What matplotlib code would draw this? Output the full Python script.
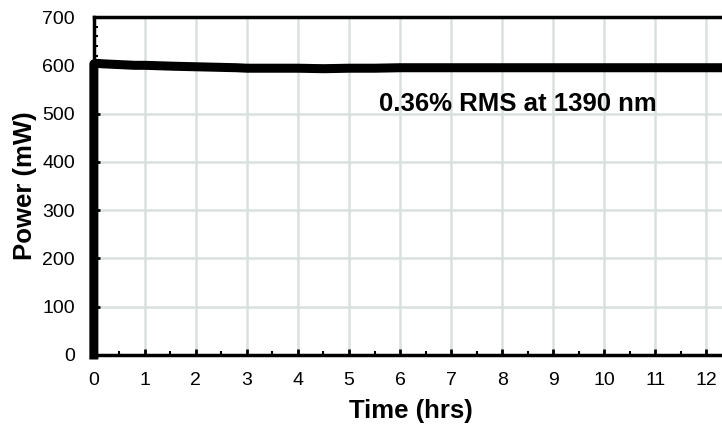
import matplotlib.pyplot as plt
from matplotlib.ticker import MultipleLocator

plt.rcParams['font.family'] = ['Liberation Sans', 'DejaVu Sans']

# power log (hours, mW)
time_hrs = [0.0, 0.0, 0.05, 0.2, 0.4, 0.6, 0.8, 1.0, 1.3, 1.6, 2.0, 2.4, 2.8, 3.0,
            3.5, 4.0, 4.5, 5.0, 5.5, 6.0, 6.5, 7.0, 7.5, 8.0, 8.5, 9.0, 9.5,
            10.0, 10.5, 11.0, 11.5, 12.0, 12.35]
power_mw = [0, 603, 604, 603, 602, 601, 600, 600, 599, 598, 597, 596, 595, 594,
            594, 594, 593, 594, 594, 595, 595, 595, 595, 595, 595, 595, 595,
            595, 595, 595, 595, 595, 595]

note = "0.36% RMS at 1390 nm"

fig = plt.figure(figsize=(7.22, 4.26), dpi=100)
ax = fig.add_axes([0.130, 0.1667, 0.870, 0.7933])

ax.plot(time_hrs, power_mw, color='black', lw=6.5, solid_joinstyle='round',
        clip_on=False, zorder=3)

ax.set_xlim(0, 12.31)
ax.set_ylim(0, 700)
ax.xaxis.set_major_locator(MultipleLocator(1))
ax.xaxis.set_minor_locator(MultipleLocator(0.5))
ax.yaxis.set_major_locator(MultipleLocator(100))
ax.yaxis.set_minor_locator(MultipleLocator(20))
ax.grid(True, which='major', color='#d8e1de', lw=1.8)
ax.set_axisbelow(True)

ax.tick_params(which='major', direction='in', length=4, width=2, labelsize=14)
ax.tick_params(axis='x', which='major', pad=12.5)
ax.tick_params(axis='y', which='major', pad=13.5)
ax.tick_params(which='minor', direction='in', length=3, width=1.5)
ax.tick_params(axis='y', which='both', right=False)

for side in ['left', 'bottom', 'top']:
    ax.spines[side].set_linewidth(2.5)
ax.spines['right'].set_visible(False)

ax.set_xlabel('Time (hrs)', fontsize=18.5, fontweight='bold', va='center')
ax.set_ylabel('Power (mW)', fontsize=18.5, fontweight='bold', va='center')
ax.xaxis.set_label_coords(0.505, -0.166)
ax.yaxis.set_label_coords(-0.110, 0.5)

ax.text(8.31, 520, note, fontsize=18.5, fontweight='bold', ha='center', va='center')

fig.savefig('out.png', dpi=100)
